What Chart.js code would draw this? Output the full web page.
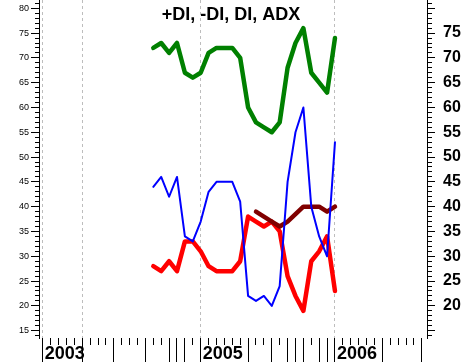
<!DOCTYPE html>
<html>
<head>
<meta charset="utf-8">
<script src="https://cdn.jsdelivr.net/npm/chart.js@4/dist/chart.umd.min.js"></script>
<style>
    body { margin: 0; background: #fff; }
    #wrap { width: 464px; height: 364px; }
</style>
</head>
<body>
<div id="wrap"><canvas id="dmiChart" width="464" height="364"></canvas></div>
<script>
        // Data points (one per period)
        const periods = [0, 1, 2, 3, 4, 5, 6, 7, 8, 9, 10, 11, 12, 13, 14, 15, 16, 17, 18, 19, 20, 21, 22, 23];
        const plusDI  = [72, 73, 71, 73, 67, 66, 67, 71, 72, 72, 72, 70, 60, 57, 56, 55, 57, 68, 73, 76, 67, 65, 63, 74];
        const minusDI = [28, 27, 29, 27, 33, 33, 31, 28, 27, 27, 27, 29, 38, 37, 36, 37, 35, 26, 22, 19, 29, 31, 34, 23];
        const diLine  = [44, 46, 42, 46, 34, 33, 37, 43, 45, 45, 45, 41, 22, 21, 22, 20, 24, 45, 55, 60, 40, 34, 30, 53];
        const adx     = [null, null, null, null, null, null, null, null, null, null, null, null, null,
                         39, 38, 37, 36, 37, 38.5, 40, 40, 40, 39, 40];

        // Bottom axis: tick marks, long ones, dashed grid lines and year labels
        const xTicks = [];
        for (let t = -14; t <= 34; t++) xTicks.push(t);
        const longTicks = [-14, -9, -5, -1, 2, 3, 4, 6, 12, 15, 17, 18, 19, 21, 22, 23, 29, 34];
        const gridTicks = [-14, -9, 6, 23];
        const yearTicks = [-14, 6, 23];
        const yearNames = ['2003', '2005', '2006'];

        // Value axis ticks
        const yTicks = [];
        for (let v = 14; v <= 81; v++) yTicks.push(v);

        const title = '+DI, -DI, DI, ADX';

        function pts(values) {
            return periods.map((p, i) => ({x: p, y: values[i]}));
        }

        function fixSize(prop, size) {
            return function(scale) {
                scale[prop] = size;
                scale.paddingTop = 0;
                scale.paddingBottom = 0;
                scale.paddingLeft = 0;
                scale.paddingRight = 0;
            };
        }

        // Title drawn inside the plot area
        const titlePlugin = {
            id: 'insideTitle',
            afterDraw(chart) {
                const ctx = chart.ctx;
                ctx.save();
                ctx.font = 'bold 18px "Liberation Sans", Arial, sans-serif';
                ctx.fillStyle = '#000';
                ctx.textAlign = 'center';
                ctx.textBaseline = 'alphabetic';
                ctx.fillText(title, 231, 20);
                ctx.restore();
            }
        };

        const ctx = document.getElementById('dmiChart').getContext('2d');
        const chart = new Chart(ctx, {
            type: 'line',
            data: {
                datasets: [
                    {label: 'DI', data: pts(diLine), borderColor: '#0000ff', borderWidth: 2, order: 0},
                    {label: 'ADX', data: pts(adx), borderColor: '#800000', borderWidth: 4.5, order: 1},
                    {label: '+DI', data: pts(plusDI), borderColor: '#008000', borderWidth: 4.5, order: 2},
                    {label: '-DI', data: pts(minusDI), borderColor: '#ff0000', borderWidth: 4.5, order: 3}
                ]
            },
            options: {
                responsive: false,
                animation: false,
                layout: {padding: 0},
                elements: {
                    point: {radius: 0},
                    line: {tension: 0, borderJoinStyle: 'round', borderCapStyle: 'round'}
                },
                plugins: {
                    legend: {display: false},
                    tooltip: {enabled: false}
                },
                scales: {
                    x: {
                        type: 'linear',
                        position: 'bottom',
                        min: -14.47,
                        max: 34.65,
                        afterBuildTicks: (scale) => { scale.ticks = xTicks.map(v => ({value: v})); },
                        afterFit: fixSize('height', 26),
                        border: {display: false, dash: [3, 3]},
                        grid: {
                            color: (c) => (c.tick && gridTicks.includes(c.tick.value)) ? '#bdbdbd' : 'rgba(0,0,0,0)',
                            lineWidth: 1,
                            tickColor: '#000',
                            tickLength: 24,
                            tickBorderDash: (c) => (c.tick && longTicks.includes(c.tick.value)) ? [] : [7, 100]
                        },
                        ticks: {
                            autoSkip: false,
                            maxRotation: 0,
                            align: 'start',
                            labelOffset: 2,
                            padding: -19,
                            color: '#000',
                            font: {family: '"Liberation Sans", Arial, sans-serif', size: 18, weight: 'bold'},
                            callback: (v) => {
                                const k = yearTicks.indexOf(v);
                                return k >= 0 ? yearNames[k] : '';
                            }
                        }
                    },
                    y: {
                        position: 'left',
                        min: 13.52,
                        max: 81.67,
                        afterBuildTicks: (scale) => { scale.ticks = yTicks.map(v => ({value: v})); },
                        afterFit: fixSize('width', 39),
                        border: {display: true, color: '#000', width: 1},
                        grid: {
                            drawOnChartArea: false,
                            tickColor: '#000',
                            tickLength: 8,
                            tickBorderDash: (c) => (c.tick && c.tick.value % 5 === 0) ? [] : [0, 4, 4, 100]
                        },
                        ticks: {
                            autoSkip: false,
                            padding: 2,
                            color: '#000',
                            font: {family: '"Liberation Sans", Arial, sans-serif', size: 9},
                            callback: (v) => (v % 5 === 0 && v >= 15 && v <= 80) ? String(v) : ''
                        }
                    },
                    y2: {
                        position: 'right',
                        min: 13.52,
                        max: 81.67,
                        afterBuildTicks: (scale) => { scale.ticks = yTicks.map(v => ({value: v})); },
                        afterFit: fixSize('width', 37),
                        border: {display: true, color: '#000', width: 1},
                        grid: {
                            drawOnChartArea: false,
                            tickColor: '#000',
                            tickLength: 8,
                            tickBorderDash: (c) => (c.tick && c.tick.value % 5 === 0) ? [] : [4, 100]
                        },
                        ticks: {
                            autoSkip: false,
                            padding: 8,
                            color: '#000',
                            font: {family: '"Liberation Sans", Arial, sans-serif', size: 16, weight: 'bold'},
                            callback: (v) => (v % 5 === 0 && v >= 20 && v <= 75) ? String(v) : ''
                        }
                    }
                }
            },
            plugins: [titlePlugin]
        });
</script>
</body>
</html>
